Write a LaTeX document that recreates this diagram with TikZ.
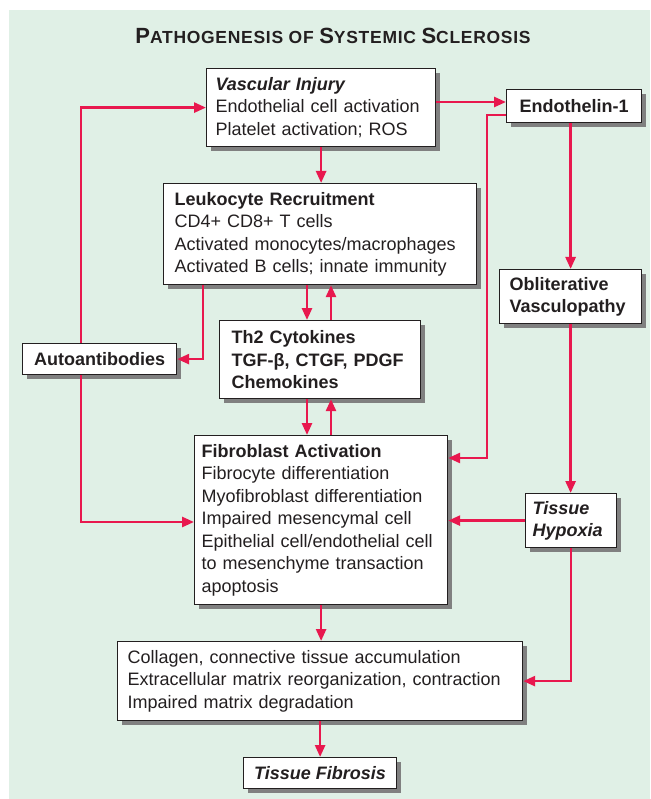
\documentclass[tikz,border=0pt]{standalone}
\usepackage{fontspec}
\setmainfont{Liberation Sans}
\newfontfamily\titlefont[LetterSpace=4]{Liberation Sans}
\usetikzlibrary{arrows.meta,shadows}
\definecolor{bggreen}{RGB}{224,240,230}
\definecolor{linkred}{RGB}{232,24,78}
\definecolor{inkc}{RGB}{35,31,32}
\tikzset{
  box/.style={draw=inkc, line width=1.2pt, fill=white,
    drop shadow={shadow xshift=4pt, shadow yshift=-4pt, fill=black!50, opacity=1},
    anchor=north west, inner ysep=0pt, text=inkc,
    font=\fontsize{18}{22.5}\selectfont},
  lbox/.style={box, align=left},
  cbox/.style={box, align=center, inner xsep=0pt},
  arr/.style={draw=linkred, line width=2.6pt, -{Triangle[length=12pt,width=10pt]}},
  titlestyle/.style={text=inkc, font=\titlefont\bfseries\fontsize{17.5}{20}\selectfont},
}
\newcommand{\titlecap}[1]{{\fontsize{22}{24}\selectfont #1}}
\begin{document}
\begin{tikzpicture}[x=1pt,y=-1pt]
\useasboundingbox (0,0) rectangle (650,799);
\fill[bggreen] (9,10) rectangle (650,799);

\node[titlestyle] (title) at (333,36) {\titlecap{P}ATHOGENESIS OF \titlecap{S}YSTEMIC \titlecap{S}CLEROSIS};

\node[lbox, minimum width=229, minimum height=78, inner xsep=9pt, text width=211pt] (vasc) at (206,68)
  {\textbf{\textit{Vascular Injury}}\\Endothelial cell activation\\Platelet activation; ROS};
\node[cbox, minimum width=135, minimum height=33] (endo) at (506,89) {\textbf{Endothelin-1}};
\node[lbox, minimum width=313, minimum height=101, inner xsep=11pt, text width=291pt] (leuk) at (163,183)
  {\textbf{Leukocyte Recruitment}\\CD4+ CD8+ T cells\\Activated monocytes/macrophages\\Activated B cells; innate immunity};
\node[lbox, minimum width=142, minimum height=54, inner xsep=10pt, text width=122pt] (obl) at (499,269)
  {\textbf{Obliterative}\\\textbf{Vasculopathy}};
\node[lbox, minimum width=201, minimum height=78, inner xsep=12pt, text width=177pt] (th2) at (219,320)
  {\textbf{Th2 Cytokines}\\\textbf{TGF-β, CTGF, PDGF}\\\textbf{Chemokines}};
\node[cbox, minimum width=154, minimum height=31] (auto) at (22,343) {\textbf{Autoantibodies}};
\node[lbox, minimum width=253, minimum height=169, inner xsep=7pt, text width=239pt] (fib) at (194,435)
  {\textbf{Fibroblast Activation}\\Fibrocyte differentiation\\Myofibroblast differentiation\\Impaired mesencymal cell\\Epithelial cell/endothelial cell\\to mesenchyme transaction\\apoptosis};
\node[lbox, minimum width=91, minimum height=54, inner xsep=7pt, text width=77pt] (hyp) at (525,493)
  {\textbf{\textit{Tissue}}\\\textbf{\textit{Hypoxia}}};
\node[lbox, minimum width=405, minimum height=79, inner xsep=10pt, text width=385pt] (coll) at (117,641)
  {Collagen, connective tissue accumulation\\Extracellular matrix reorganization, contraction\\Impaired matrix degradation};
\node[cbox, minimum width=153, minimum height=31] (fibrosis) at (243,757) {\textbf{\textit{Tissue Fibrosis}}};

\draw[arr] (vasc.east |- 0,102) -- (endo.west |- 0,102);
\draw[arr] (endo.west |- 0,115) -- (487,115) -- (487,458) -- (fib.east |- 0,458);
\draw[arr] (endo.south -| obl.north) -- (obl.north);
\draw[arr] (obl.south) -- (obl.south |- hyp.north);
\draw[arr] (hyp.west) -- (hyp.west -| fib.east);
\draw[arr] (hyp.south) |- (coll.east);
\draw[arr] (vasc.south) -- (vasc.south |- leuk.north);
\draw[arr] (leuk.south -| 307,0) -- (th2.north -| 307,0);
\draw[arr] (th2.north -| 331,0) -- (leuk.south -| 331,0);
\draw[arr] (th2.south -| 307,0) -- (fib.north -| 307,0);
\draw[arr] (fib.north -| 331,0) -- (th2.south -| 331,0);
\draw[arr] (leuk.south -| 203,0) |- (auto.east);
\draw[arr] (auto.north -| 81,0) |- (vasc.west);
\draw[arr] (auto.south -| 81,0) |- (fib.west |- 0,522);
\draw[arr] (fib.south) -- (fib.south |- coll.north);
\draw[arr] (coll.south) -- (coll.south |- fibrosis.north);
\end{tikzpicture}
\end{document}
